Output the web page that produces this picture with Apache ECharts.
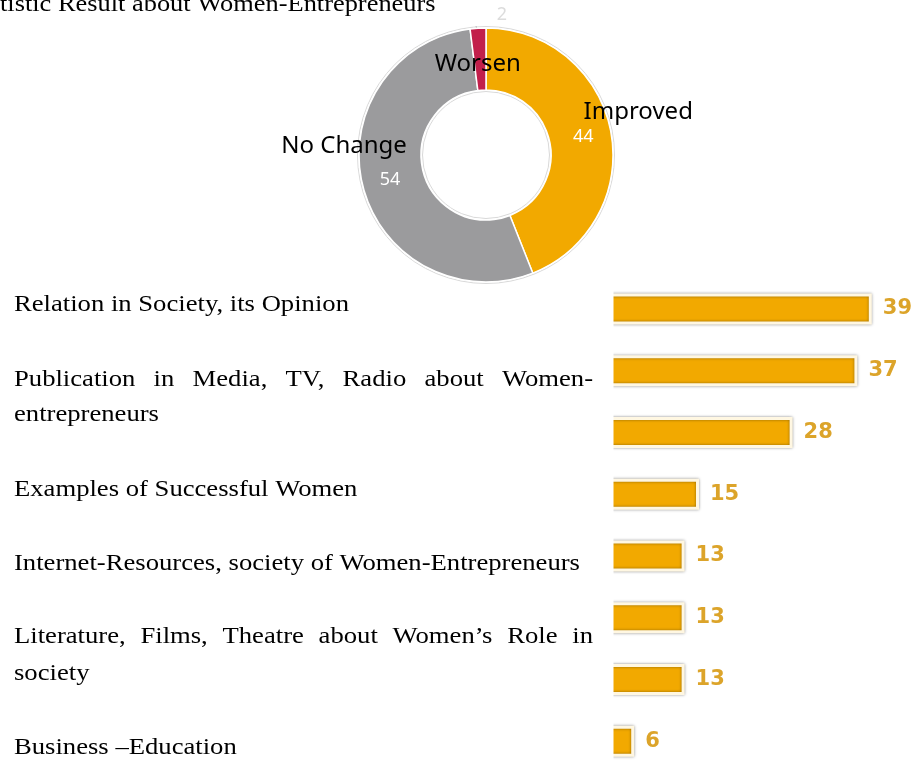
<!DOCTYPE html>
<html>
<head>
<meta charset="utf-8">
<script src="https://cdn.jsdelivr.net/npm/echarts@6/dist/echarts.min.js"></script>
<style>
  html, body { margin: 0; padding: 0; background: #fff; }
  #chart { width: 917px; height: 772px; }
</style>
</head>
<body>
<div id="chart"></div>
<script>
// Survey outcome: how the situation of women-entrepreneurs changed (%)
const outcomeNames = ['Improved', 'No Change', 'Worsen'];
const outcomeValues = [44, 54, 2];

// Factors that shape the image of women-entrepreneurs (%)
const factorIds = ['f1', 'f2', 'f3', 'f4', 'f5', 'f6', 'f7', 'f8'];
const factorValues = [39, 37, 28, 15, 13, 13, 13, 6];

// Text list printed beside the bars (each entry = one paragraph, pre-wrapped)
const factorText = [
  ['Relation in Society, its Opinion'],
  ['Publication in Media, TV, Radio about Women-', 'entrepreneurs'],
  ['Examples of Successful Women'],
  ['Internet-Resources, society of Women-Entrepreneurs'],
  ['Literature, Films, Theatre about Women\u2019s Role in', 'society'],
  ['Business \u2013Education']
];
const headingText = 'tistic Result about Women-Entrepreneurs';

// ---- layout / style ----
const SERIF = '"Liberation Serif", "Times New Roman", serif';
const TEXT_SIZE = 24;
const TEXT_STRETCH = 1.11;   // printed text is slightly widened
const TEXT_LEFT = 14;
const TEXT_RIGHT = 593;
// baselines of each printed line, paragraph by paragraph
const paraBaselines = [[312], [387, 422], [497], [571], [644, 681], [755]];

const measureCtx = document.createElement('canvas').getContext('2d');
measureCtx.font = TEXT_SIZE + 'px ' + SERIF;

function textEl(str, x, baseline, stretch) {
  return {
    type: 'text', x: x, y: baseline - TEXT_SIZE * 0.32, silent: true, z: 110,
    scaleX: stretch || TEXT_STRETCH,
    style: {
      text: str, fill: '#000', font: TEXT_SIZE + 'px ' + SERIF,
      align: 'left', verticalAlign: 'middle'
    }
  };
}

function justifiedLine(str, baseline) {
  const words = str.split(' ');
  const widths = words.map(w => measureCtx.measureText(w).width * TEXT_STRETCH);
  const total = widths.reduce((a, b) => a + b, 0);
  const gap = (TEXT_RIGHT - TEXT_LEFT - total) / (words.length - 1);
  const els = [];
  let x = TEXT_LEFT;
  words.forEach((w, i) => {
    els.push(textEl(w, x, baseline));
    x += widths[i] + gap;
  });
  return els;
}

const graphics = [];
// the bars are cut off on the left edge of the bar panel
graphics.push({
  type: 'rect', z: 100, silent: true,
  shape: { x: 586, y: 280, width: 27.5, height: 492 },
  style: { fill: '#fff' }
});
factorText.forEach((lines, p) => {
  lines.forEach((ln, i) => {
    const base = paraBaselines[p][i];
    if (i < lines.length - 1) graphics.push(...justifiedLine(ln, base));
    else graphics.push(textEl(ln, TEXT_LEFT, base));
  });
});
graphics.push(textEl(headingText, 0, 12, 1.1));

const sliceColors = ['#f2a900', '#9b9b9d', '#c21f4b'];
const nameShift = [[55, -24], [-46, -33], [-2, 8]];
const PIE_CENTER = [486, 155];
const PIE_RADIUS = [65, 127];

const chart = echarts.init(document.getElementById('chart'), null, { renderer: 'canvas' });

chart.setOption({
  animation: false,
  backgroundColor: '#fff',
  graphic: graphics,
  grid: { left: 591, right: 2, top: 278, height: 494, containLabel: false },
  xAxis: { type: 'value', min: 0, max: 45, show: false },
  yAxis: { type: 'category', data: factorIds, inverse: true, show: false },
  series: [
    // thin grey rim around the ring
    {
      type: 'pie', center: PIE_CENTER, radius: [PIE_RADIUS[0] - 1.5, PIE_RADIUS[1] + 1.5],
      silent: true, z: 1, label: { show: false }, labelLine: { show: false },
      itemStyle: { color: '#fff', borderColor: '#d9d9d9', borderWidth: 1 },
      data: [{ value: 1, name: 'rim' }]
    },
    // slices with their values
    {
      type: 'pie', center: PIE_CENTER, radius: PIE_RADIUS, startAngle: 90, clockwise: true,
      z: 2, avoidLabelOverlap: false,
      itemStyle: { borderColor: '#fff', borderWidth: 1.5 },
      label: {
        show: true, position: 'inside', formatter: '{c}', color: '#fff',
        fontFamily: '"Noto Sans", sans-serif', fontSize: 18
      },
      labelLine: { show: false },
      labelLayout: function (p) {
        if (p.dataIndex === 2) {
          return {
            x: 502, y: 15, align: 'center', verticalAlign: 'middle',
            labelLinePoints: [[477, 31], [476.5, 28], [476, 26]]
          };
        }
      },
      data: outcomeValues.map((v, i) => {
        const item = { value: v, name: outcomeNames[i], itemStyle: { color: sliceColors[i] } };
        if (i === 2) {
          item.label = { position: 'outside', color: '#dcdcdc', fontSize: 18 };
          item.labelLine = { show: true, length: 3, length2: 2, lineStyle: { color: '#b8b8b8', width: 1 } };
        }
        return item;
      })
    },
    // category names laid over the ring
    {
      type: 'pie', center: PIE_CENTER, radius: PIE_RADIUS, startAngle: 90, clockwise: true,
      z: 3, silent: true, avoidLabelOverlap: false,
      itemStyle: { color: 'rgba(0,0,0,0)', borderWidth: 0 },
      label: {
        show: true, position: 'inside', formatter: '{b}', color: '#000',
        fontFamily: '"Noto Sans", sans-serif', fontSize: 24
      },
      labelLine: { show: false },
      labelLayout: function (p) {
        const s = nameShift[p.dataIndex];
        return { dx: s[0], dy: s[1] };
      },
      data: outcomeValues.map((v, i) => ({ value: v, name: outcomeNames[i] }))
    },
    // factor bars
    {
      type: 'bar', data: factorValues, barWidth: 31,
      itemStyle: {
        color: '#f2a900', borderColor: '#fff7e2', borderWidth: 3,
        shadowColor: 'rgba(0,0,0,0.4)', shadowBlur: 3
      },
      label: {
        show: true, position: 'right', distance: 11, color: '#dca42a',
        fontFamily: '"DejaVu Sans", sans-serif', fontWeight: 'bold', fontSize: 21
      }
    }
  ]
});
</script>
</body>
</html>
